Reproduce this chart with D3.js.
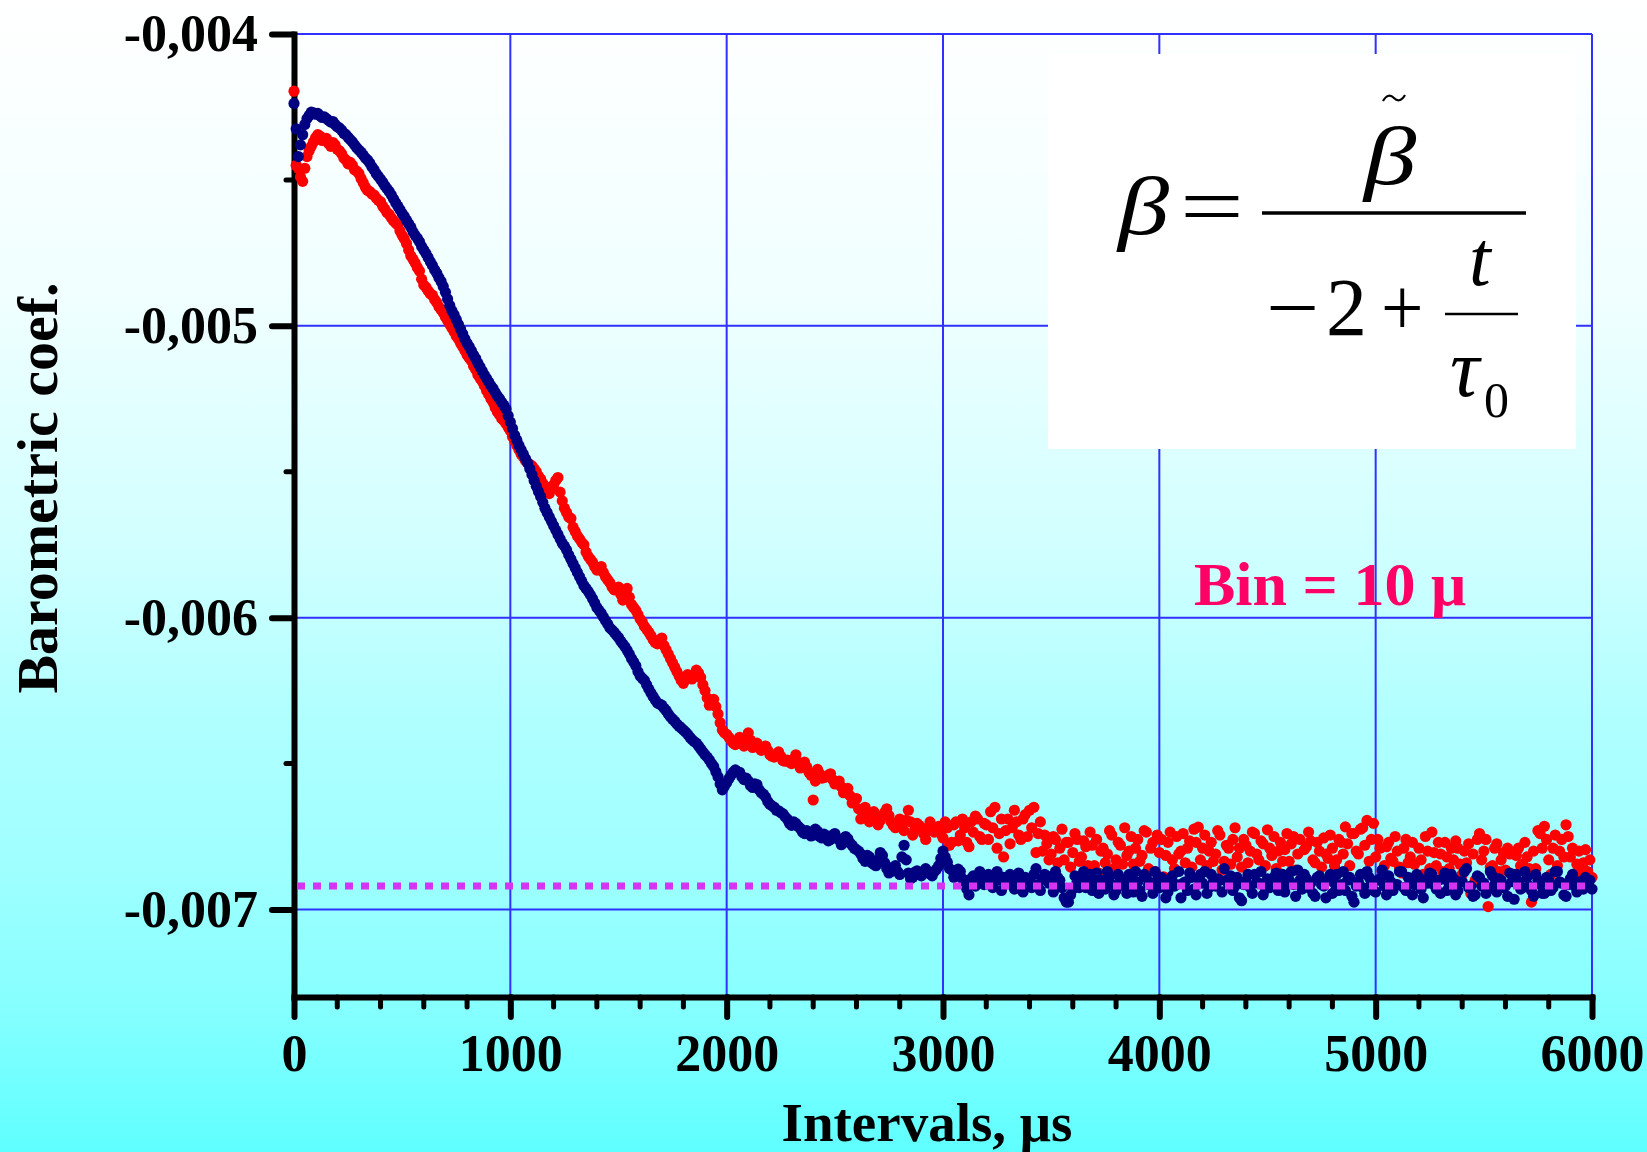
<!DOCTYPE html>
<html>
<head>
<meta charset="utf-8">
<script src="https://cdn.jsdelivr.net/npm/d3@7"></script>
<style>
  html, body { margin: 0; padding: 0; }
  body { width: 1647px; height: 1152px; overflow: hidden; }
  svg { display: block; }
</style>
</head>
<body>
<div id="container"></div>
<script>
// bin spacing of both series, µs
const binStep = 10;

// barometric coef. per bin, units of 1e-6 (red series)
const redCoef = [
  -4196, -4450, -4460, -4490, -4505, -4460, -4420, -4400, -4385, -4370,
  -4355, -4345, -4350, -4365, -4362, -4358, -4375, -4385, -4372, -4380,
  -4395, -4400, -4410, -4425, -4432, -4445, -4440, -4450, -4465, -4470,
  -4478, -4495, -4510, -4525, -4536, -4540, -4548, -4552, -4562, -4570,
  -4575, -4590, -4600, -4612, -4618, -4630, -4640, -4648, -4655, -4675,
  -4690, -4702, -4718, -4740, -4760, -4772, -4785, -4800, -4812, -4840,
  -4860, -4868, -4880, -4890, -4895, -4910, -4920, -4935, -4945, -4955,
  -4970, -4982, -4995, -5008, -5020, -5035, -5045, -5060, -5072, -5085,
  -5100, -5110, -5120, -5138, -5150, -5168, -5180, -5190, -5205, -5222,
  -5235, -5250, -5262, -5280, -5295, -5305, -5318, -5325, -5335, -5348,
  -5360, -5380, -5395, -5410, -5425, -5440, -5450, -5462, -5470, -5475,
  -5480, -5490, -5500, -5515, -5525, -5540, -5550, -5565, -5575, -5560,
  -5545, -5530, -5520, -5570, -5600, -5625, -5640, -5655, -5660, -5690,
  -5705, -5720, -5730, -5742, -5750, -5775, -5790, -5800, -5810, -5825,
  -5837, -5830, -5825, -5845, -5860, -5870, -5880, -5895, -5905, -5900,
  -5895, -5920, -5940, -5915, -5900, -5930, -5955, -5965, -5975, -5990,
  -6005, -6015, -6030, -6040, -6050, -6062, -6075, -6085, -6090, -6080,
  -6070, -6095, -6110, -6125, -6140, -6155, -6170, -6185, -6200, -6215,
  -6225, -6210, -6195, -6205, -6210, -6195, -6180, -6190, -6205, -6230,
  -6250, -6275, -6300, -6290, -6280, -6305, -6330, -6360, -6385, -6395,
  -6400, -6410, -6420, -6430, -6435, -6420, -6410, -6425, -6440, -6420,
  -6395, -6420, -6445, -6440, -6430, -6442, -6455, -6448, -6440, -6455,
  -6470, -6475, -6478, -6468, -6460, -6475, -6490, -6492, -6488, -6495,
  -6500, -6485, -6470, -6495, -6515, -6505, -6495, -6512, -6530, -6540,
  -6625, -6560, -6520, -6535, -6550, -6548, -6545, -6540, -6535, -6555,
  -6570, -6565, -6560, -6580, -6600, -6592, -6585, -6610, -6635, -6628,
  -6620, -6655, -6690, -6670, -6650, -6675, -6700, -6682, -6665, -6690,
  -6710, -6695, -6680, -6668, -6655, -6678, -6700, -6712, -6720, -6705,
  -6690, -6710, -6730, -6695, -6660, -6700, -6745, -6725, -6705, -6712,
  -6720, -6740, -6760, -6730, -6700, -6718, -6735, -6725, -6715, -6740,
  -6755, -6700, -6720, -6780, -6770, -6710, -6700, -6765, -6745, -6690,
  -6720, -6770, -6785, -6700, -6735, -6680, -6690, -6750, -6760, -6705,
  -6710, -6760, -6665, -6720, -6650, -6790, -6740, -6690, -6820, -6730,
  -6690, -6775, -6720, -6660, -6700, -6745, -6760, -6690, -6675, -6750,
  -6660, -6720, -6650, -6805, -6740, -6700, -6800, -6745, -6775, -6830,
  -6810, -6750, -6760, -6840, -6790, -6725, -6830, -6770, -6770, -6855,
  -6805, -6740, -6760, -6835, -6820, -6765, -6785, -6850, -6735, -6780,
  -6850, -6760, -6875, -6800, -6790, -6840, -6810, -6730, -6745, -6860,
  -6830, -6770, -6780, -6845, -6720, -6815, -6800, -6750, -6845, -6790,
  -6760, -6835, -6815, -6730, -6735, -6860, -6790, -6770, -6870, -6745,
  -6805, -6760, -6888, -6815, -6770, -6735, -6830, -6860, -6750, -6810,
  -6800, -6740, -6840, -6790, -6765, -6855, -6725, -6770, -6718, -6830,
  -6790, -6745, -6850, -6800, -6770, -6835, -6810, -6730, -6745, -6865,
  -6835, -6780, -6790, -6845, -6760, -6720, -6820, -6790, -6855, -6760,
  -6780, -6840, -6800, -6735, -6740, -6810, -6830, -6765, -6775, -6850,
  -6727, -6790, -6815, -6750, -6860, -6800, -6770, -6835, -6795, -6740,
  -6835, -6775, -6750, -6865, -6810, -6760, -6880, -6795, -6785, -6735,
  -6765, -6830, -6840, -6770, -6800, -6855, -6755, -6810, -6825, -6745,
  -6790, -6850, -6830, -6760, -6770, -6810, -6717, -6775, -6850, -6740,
  -6740, -6800, -6810, -6725, -6720, -6780, -6695, -6835, -6760, -6705,
  -6820, -6760, -6790, -6870, -6850, -6785, -6770, -6825, -6835, -6750,
  -6800, -6855, -6875, -6790, -6760, -6840, -6820, -6770, -6845, -6895,
  -6790, -6830, -6880, -6750, -6800, -6860, -6735, -6805, -6850, -6770,
  -6810, -6870, -6770, -6820, -6860, -6790, -6830, -6765, -6790, -6845,
  -6880, -6800, -6840, -6775, -6945, -6810, -6900, -6760, -6740, -6830,
  -6800, -6760, -6990, -6855, -6850, -6790, -6775, -6870, -6830, -6805,
  -6865, -6790, -6810, -6880, -6880, -6815, -6790, -6850, -6845, -6770,
  -6820, -6860, -6975, -6800, -6860, -6730, -6740, -6790, -6715, -6760,
  -6830, -6880, -6790, -6745, -6850, -6800, -6760, -6820, -6710, -6750,
  -6820, -6790, -6880, -6845, -6800, -6870, -6840, -6795, -6870, -6830,
  -6890
];

// barometric coef. per bin, units of 1e-6 (blue series)
const blueCoef = [
  -4238, -4325, -4420, -4380, -4345, -4310, -4290, -4279, -4268, -4270,
  -4275, -4272, -4280, -4286, -4284, -4290, -4296, -4302, -4300, -4310,
  -4318, -4322, -4330, -4340, -4345, -4354, -4362, -4370, -4380, -4390,
  -4398, -4405, -4415, -4425, -4432, -4442, -4455, -4465, -4478, -4488,
  -4498, -4508, -4520, -4530, -4540, -4552, -4565, -4578, -4590, -4602,
  -4615, -4625, -4638, -4650, -4662, -4678, -4690, -4700, -4712, -4728,
  -4740, -4752, -4766, -4780, -4793, -4808, -4820, -4835, -4848, -4865,
  -4885, -4908, -4930, -4948, -4962, -4978, -4995, -5012, -5028, -5045,
  -5060, -5072, -5085, -5100, -5112, -5128, -5141, -5155, -5168, -5180,
  -5192, -5205, -5215, -5228, -5240, -5250, -5262, -5272, -5285, -5308,
  -5330, -5352, -5375, -5392, -5410, -5425, -5440, -5455, -5470, -5490,
  -5510, -5530, -5550, -5568, -5585, -5605, -5625, -5640, -5655, -5670,
  -5685, -5700, -5715, -5730, -5745, -5755, -5768, -5785, -5800, -5815,
  -5830, -5845, -5860, -5875, -5890, -5900, -5910, -5922, -5935, -5950,
  -5965, -5975, -5985, -5998, -6010, -6022, -6035, -6042, -6050, -6060,
  -6068, -6080, -6090, -6100, -6112, -6125, -6140, -6152, -6165, -6185,
  -6200, -6208, -6215, -6230, -6245, -6258, -6270, -6282, -6293, -6296,
  -6300, -6310, -6318, -6330, -6340, -6348, -6355, -6365, -6372, -6378,
  -6385, -6392, -6400, -6410, -6418, -6425, -6430, -6440, -6450, -6460,
  -6470, -6478, -6488, -6500, -6510, -6528, -6545, -6570, -6590, -6578,
  -6565, -6552, -6540, -6530, -6522, -6528, -6530, -6545, -6555, -6550,
  -6560, -6575, -6582, -6570, -6572, -6590, -6600, -6605, -6615, -6630,
  -6640, -6645, -6650, -6660, -6662, -6668, -6672, -6682, -6690, -6705,
  -6712, -6700, -6705, -6715, -6722, -6735, -6740, -6730, -6735, -6748,
  -6745, -6725, -6732, -6750, -6755, -6742, -6748, -6765, -6760, -6745,
  -6740, -6755, -6762, -6778, -6770, -6750, -6758, -6772, -6780, -6790,
  -6795, -6800, -6810, -6825, -6835, -6815, -6820, -6840, -6845, -6850,
  -6830, -6805, -6815, -6840, -6860, -6875, -6870, -6855, -6850, -6870,
  -6880, -6820, -6780, -6830, -6875, -6895, -6890, -6872, -6868, -6880,
  -6885, -6870, -6860, -6875, -6878, -6885, -6870, -6862, -6850, -6825,
  -6800, -6820, -6838, -6860, -6865, -6890, -6880, -6862, -6870, -6895,
  -6905, -6930, -6950, -6895, -6885, -6920, -6900, -6870, -6880, -6915,
  -6895, -6880, -6910, -6925, -6885, -6870, -6900, -6935, -6890, -6905,
  -6912, -6880, -6895, -6930, -6905, -6875, -6920, -6940, -6890, -6900,
  -6900, -6925, -6880, -6860, -6915, -6935, -6895, -6880, -6885, -6910,
  -6905, -6940, -6870, -6890, -6900, -6925, -6960, -6975, -6975, -6950,
  -6930, -6885, -6905, -6925, -6890, -6870, -6925, -6900, -6880, -6935,
  -6910, -6875, -6945, -6905, -6900, -6930, -6870, -6890, -6915, -6950,
  -6935, -6880, -6895, -6910, -6920, -6945, -6880, -6900, -6940, -6870,
  -6905, -6935, -6955, -6880, -6890, -6915, -6910, -6945, -6870, -6900,
  -6925, -6890, -6900, -6960, -6940, -6895, -6885, -6920, -6915, -6870,
  -6960, -6910, -6905, -6935, -6875, -6890, -6930, -6950, -6895, -6880,
  -6910, -6870, -6945, -6925, -6880, -6905, -6920, -6895, -6900, -6940,
  -6860, -6900, -6915, -6885, -6935, -6920, -6890, -6960, -6970, -6915,
  -6905, -6880, -6925, -6945, -6880, -6905, -6910, -6870, -6950, -6930,
  -6895, -6925, -6920, -6890, -6875, -6935, -6905, -6880, -6940, -6915,
  -6900, -6870, -6915, -6955, -6865, -6900, -6930, -6880, -6895, -6925,
  -6910, -6945, -6955, -6890, -6885, -6915, -6920, -6960, -6900, -6880,
  -6945, -6910, -6880, -6935, -6915, -6870, -6935, -6900, -6890, -6955,
  -6975, -6920, -6905, -6880, -6925, -6945, -6870, -6890, -6910, -6935,
  -6940, -6900, -6895, -6865, -6920, -6950, -6885, -6905, -6935, -6915,
  -6915, -6870, -6870, -6925, -6935, -6890, -6900, -6950, -6915, -6880,
  -6890, -6930, -6960, -6900, -6910, -6875, -6880, -6915, -6930, -6900,
  -6945, -6895, -6875, -6935, -6915, -6880, -6895, -6950, -6935, -6905,
  -6905, -6870, -6860, -6925, -6920, -6955, -6950, -6885, -6890, -6920,
  -6910, -6945, -6930, -6870, -6885, -6915, -6940, -6895, -6900, -6925,
  -6920, -6955, -6875, -6905, -6965, -6880, -6905, -6930, -6925, -6870,
  -6890, -6920, -6935, -6955, -6880, -6900, -6915, -6945, -6945, -6890,
  -6900, -6935, -6925, -6870, -6870, -6905, -6910, -6950, -6955, -6915,
  -6895, -6880, -6920, -6940, -6905, -6925, -6930, -6890, -6915, -6900,
  -6930
];

// axis ticks and labels
const xTicks = [0, 1000, 2000, 3000, 4000, 5000, 6000];
const xMinorTicks = [200, 400, 600, 800, 1200, 1400, 1600, 1800, 2200, 2400, 2600, 2800,
  3200, 3400, 3600, 3800, 4200, 4400, 4600, 4800, 5200, 5400, 5600, 5800];
const yTicks = [-0.004, -0.005, -0.006, -0.007];
const yTickLabels = ['-0,004', '-0,005', '-0,006', '-0,007'];
const yMinorTicks = [-0.0045, -0.0055, -0.0065];

// saturation level (dotted line)
const levelValue = -0.00692;

const serif = '"Liberation Serif", "Times New Roman", serif';

// select target node
const container = d3.select('#container');

// create the canvas
const svg = container
  .append('svg')
  .attr('width', 1647)
  .attr('height', 1152);

// background gradient, white to cyan
const grad = svg.append('defs')
  .append('linearGradient')
  .attr('id', 'bg')
  .attr('x1', 0).attr('y1', 0).attr('x2', 0).attr('y2', 1);

[[0, '#ffffff'], [0.26, '#f0ffff'], [0.48, '#d0ffff'], [0.625, '#b0ffff'],
 [0.76, '#9effff'], [0.87, '#87ffff'], [1, '#5fffff']].forEach(([o, c]) => {
  grad.append('stop').attr('offset', o).attr('stop-color', c);
});

svg.append('rect')
  .attr('width', 1647)
  .attr('height', 1152)
  .attr('fill', 'url(#bg)');

// scales
const xScale = d3.scaleLinear()
  .domain([0, 6000])
  .range([294, 1592]);

const yScale = d3.scaleLinear()
  .domain([-0.004, -0.0073])
  .range([34, 997]);

// grid lines
const grid = svg.append('g');

grid.selectAll('.vgrid')
  .data(xTicks.slice(1))
  .join('line')
  .attr('x1', d => xScale(d))
  .attr('x2', d => xScale(d))
  .attr('y1', yScale(-0.004))
  .attr('y2', yScale(-0.0073))
  .attr('stroke', '#3030ff')
  .attr('stroke-width', 2);

grid.selectAll('.hgrid')
  .data(yTicks)
  .join('line')
  .attr('x1', xScale(0))
  .attr('x2', xScale(6000))
  .attr('y1', d => yScale(d))
  .attr('y2', d => yScale(d))
  .attr('stroke', '#3030ff')
  .attr('stroke-width', 2);

// axes
const xAxis = d3.axisBottom(xScale)
  .tickValues(xTicks)
  .tickSize(20)
  .tickSizeOuter(0)
  .tickPadding(17)
  .tickFormat(d3.format('d'));

const yAxis = d3.axisLeft(yScale)
  .tickValues(yTicks)
  .tickSize(22)
  .tickSizeOuter(0)
  .tickPadding(14)
  .tickFormat((d, i) => yTickLabels[i]);

const gx = svg.append('g')
  .attr('transform', `translate(0, ${yScale(-0.0073)})`)
  .call(xAxis);

const gy = svg.append('g')
  .attr('transform', `translate(${xScale(0)}, 0)`)
  .call(yAxis);

[gx, gy].forEach(g => {
  g.select('.domain')
    .attr('stroke', '#000')
    .attr('stroke-width', 6)
    .attr('stroke-linecap', 'square');
  g.selectAll('.tick line')
    .attr('stroke', '#000')
    .attr('stroke-width', 6)
    .attr('stroke-linecap', 'round');
  g.selectAll('.tick text')
    .attr('fill', '#000')
    .style('font-family', serif)
    .style('font-weight', 'bold')
    .style('font-size', '52px');
});

// minor ticks
gx.selectAll('.minor')
  .data(xMinorTicks)
  .join('line')
  .attr('x1', d => xScale(d))
  .attr('x2', d => xScale(d))
  .attr('y1', 0)
  .attr('y2', 10)
  .attr('stroke', '#000')
  .attr('stroke-width', 5)
  .attr('stroke-linecap', 'round');

gy.selectAll('.minor')
  .data(yMinorTicks)
  .join('line')
  .attr('x1', -8)
  .attr('x2', 0)
  .attr('y1', d => yScale(d))
  .attr('y2', d => yScale(d))
  .attr('stroke', '#000')
  .attr('stroke-width', 5)
  .attr('stroke-linecap', 'round');

// axis titles
svg.append('text')
  .attr('x', 927)
  .attr('y', 1141)
  .attr('text-anchor', 'middle')
  .style('font-family', serif)
  .style('font-weight', 'bold')
  .style('font-size', '55px')
  .text('Intervals, μs');

svg.append('text')
  .attr('transform', 'translate(57, 488) rotate(-90)')
  .attr('text-anchor', 'middle')
  .style('font-family', serif)
  .style('font-weight', 'bold')
  .style('font-size', '58px')
  .text('Barometric coef.');

// scatter points: red first, blue on top
const toPoints = arr => arr.map((v, i) => ({ t: i * binStep, v: v * 1e-6 }));

const series = [
  { color: '#ff0000', data: toPoints(redCoef) },
  { color: '#000080', data: toPoints(blueCoef) }
];

series.forEach(s => {
  svg.append('g')
    .selectAll('circle')
    .data(s.data)
    .join('circle')
    .attr('cx', d => xScale(d.t))
    .attr('cy', d => yScale(d.v))
    .attr('r', 5.6)
    .attr('fill', s.color);
});

// dotted level line
svg.append('line')
  .attr('x1', xScale(0) + 3)
  .attr('x2', xScale(6000))
  .attr('y1', yScale(levelValue))
  .attr('y2', yScale(levelValue))
  .attr('stroke', '#d535f0')
  .attr('stroke-width', 7)
  .attr('stroke-dasharray', '8 8');

// bin label
svg.append('text')
  .attr('x', 1194)
  .attr('y', 605)
  .attr('fill', '#ff0066')
  .style('font-family', serif)
  .style('font-weight', 'bold')
  .style('font-size', '62px')
  .text('Bin = 10 μ');

// formula box
const formula = svg.append('g');

formula.append('rect')
  .attr('x', 1048)
  .attr('y', 54)
  .attr('width', 528)
  .attr('height', 395)
  .attr('fill', '#ffffff');

const mathText = (x, y, size, italic, str, sx = 1) => formula.append('text')
  .attr('transform', `translate(${x}, ${y}) scale(${sx}, 1)`)
  .style('font-family', serif)
  .style('font-style', italic ? 'italic' : 'normal')
  .style('font-size', `${size}px`)
  .text(str);

mathText(1118, 234, 82, true, 'β', 1.25);
mathText(1180, 234, 82, false, '=', 1.38);
mathText(1364, 184, 82, true, 'β', 1.28);
mathText(1266, 335, 82, false, '−', 1.15);
mathText(1326, 335, 82, false, '2');
mathText(1381, 335, 82, false, '+', 0.92);
mathText(1469, 285, 78, true, 't');
mathText(1450, 396, 82, true, 'τ');
mathText(1484, 417, 50, false, '0');

// tilde over the numerator beta
formula.append('path')
  .attr('d', 'M1383,101 C1387,94 1391,95 1394,98 S1401,102 1405,95')
  .attr('fill', 'none')
  .attr('stroke', '#000')
  .attr('stroke-width', 2.2);

formula.append('line')
  .attr('x1', 1262).attr('x2', 1526)
  .attr('y1', 213).attr('y2', 213)
  .attr('stroke', '#000')
  .attr('stroke-width', 3.5);

formula.append('line')
  .attr('x1', 1445).attr('x2', 1518)
  .attr('y1', 314).attr('y2', 314)
  .attr('stroke', '#000')
  .attr('stroke-width', 2.5);
</script>
</body>
</html>
